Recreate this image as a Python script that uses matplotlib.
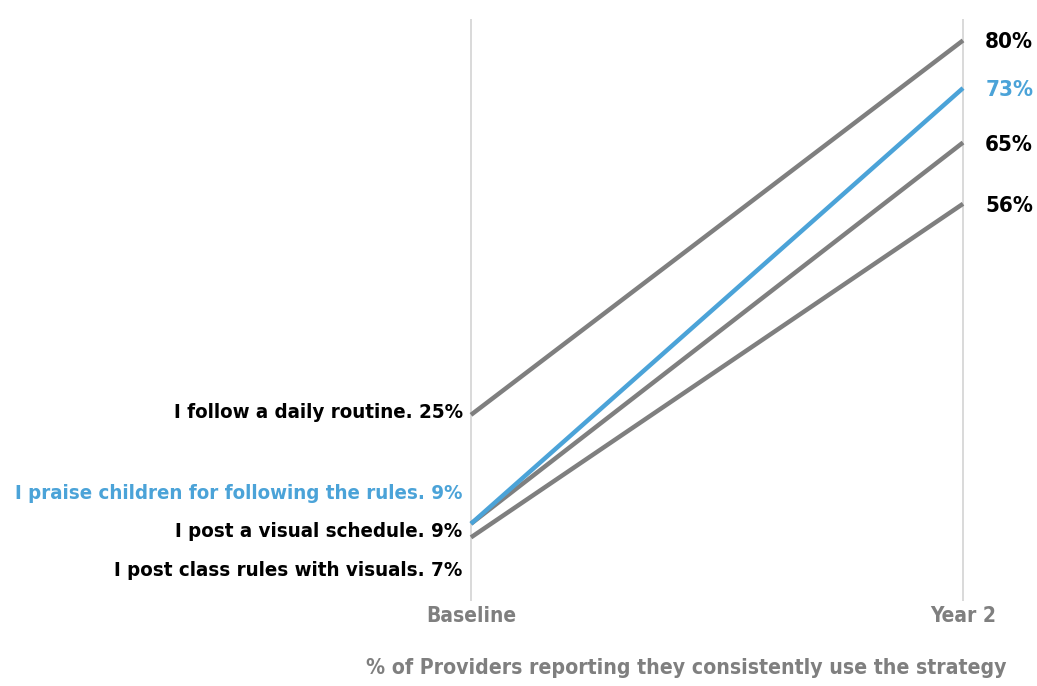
import matplotlib
matplotlib.use("Agg")
import matplotlib.pyplot as plt

# data
periods = ["Baseline", "Year 2"]
strategies = [
    "I follow a daily routine.",
    "I praise children for following the rules.",
    "I post a visual schedule.",
    "I post class rules with visuals.",
]
baseline = [25, 9, 9, 7]
year2 = [80, 73, 65, 56]
highlight = [False, True, False, False]
# label positions at the left (nudged so they don't overlap)
label_y = [25.3, 13.4, 7.8, 2.1]

GREY = "#7f7f7f"
BLUE = "#4ba3d8"
FONT = dict(family="DejaVu Sans", stretch="condensed", weight="bold")

fig = plt.figure(figsize=(10.37, 6.86), dpi=100)
ax = fig.add_axes([471 / 1037, 86 / 686, 492 / 1037, 580 / 686])
ax.set_xlim(0, 1)
ax.set_ylim(-2.2, 83)

# the two vertical guide lines
for x in (0, 1):
    ax.axvline(x, color="#d9d9d9", lw=1.4, zorder=0, clip_on=False)

for name, b, y2, hl, ly in zip(strategies, baseline, year2, highlight, label_y):
    col = BLUE if hl else GREY
    ax.plot([0, 1], [b, y2], color=col, lw=3.2, solid_capstyle="butt",
            zorder=3 if hl else 2, clip_on=False)
    txtcol = BLUE if hl else "black"
    ax.text(-0.017, ly, f"{name} {b}%", ha="right", va="center",
            color=txtcol, fontsize=14.7, **FONT)
    ax.text(1.045, y2 - 0.3, f"{y2}%", ha="left", va="center",
            color=txtcol, fontsize=16, **FONT)

ax.set_xticks([0, 1])
ax.set_xticklabels(periods, color=GREY, fontsize=15, **FONT)
ax.tick_params(axis="x", length=0, pad=4)
ax.set_yticks([])
for s in ax.spines.values():
    s.set_visible(False)

fig.text(686 / 1037, 18 / 686, "% of Providers reporting they consistently use the strategy",
         ha="center", va="center", color=GREY, fontsize=15.2, **FONT)

fig.savefig("out.png", dpi=100, facecolor="white")
